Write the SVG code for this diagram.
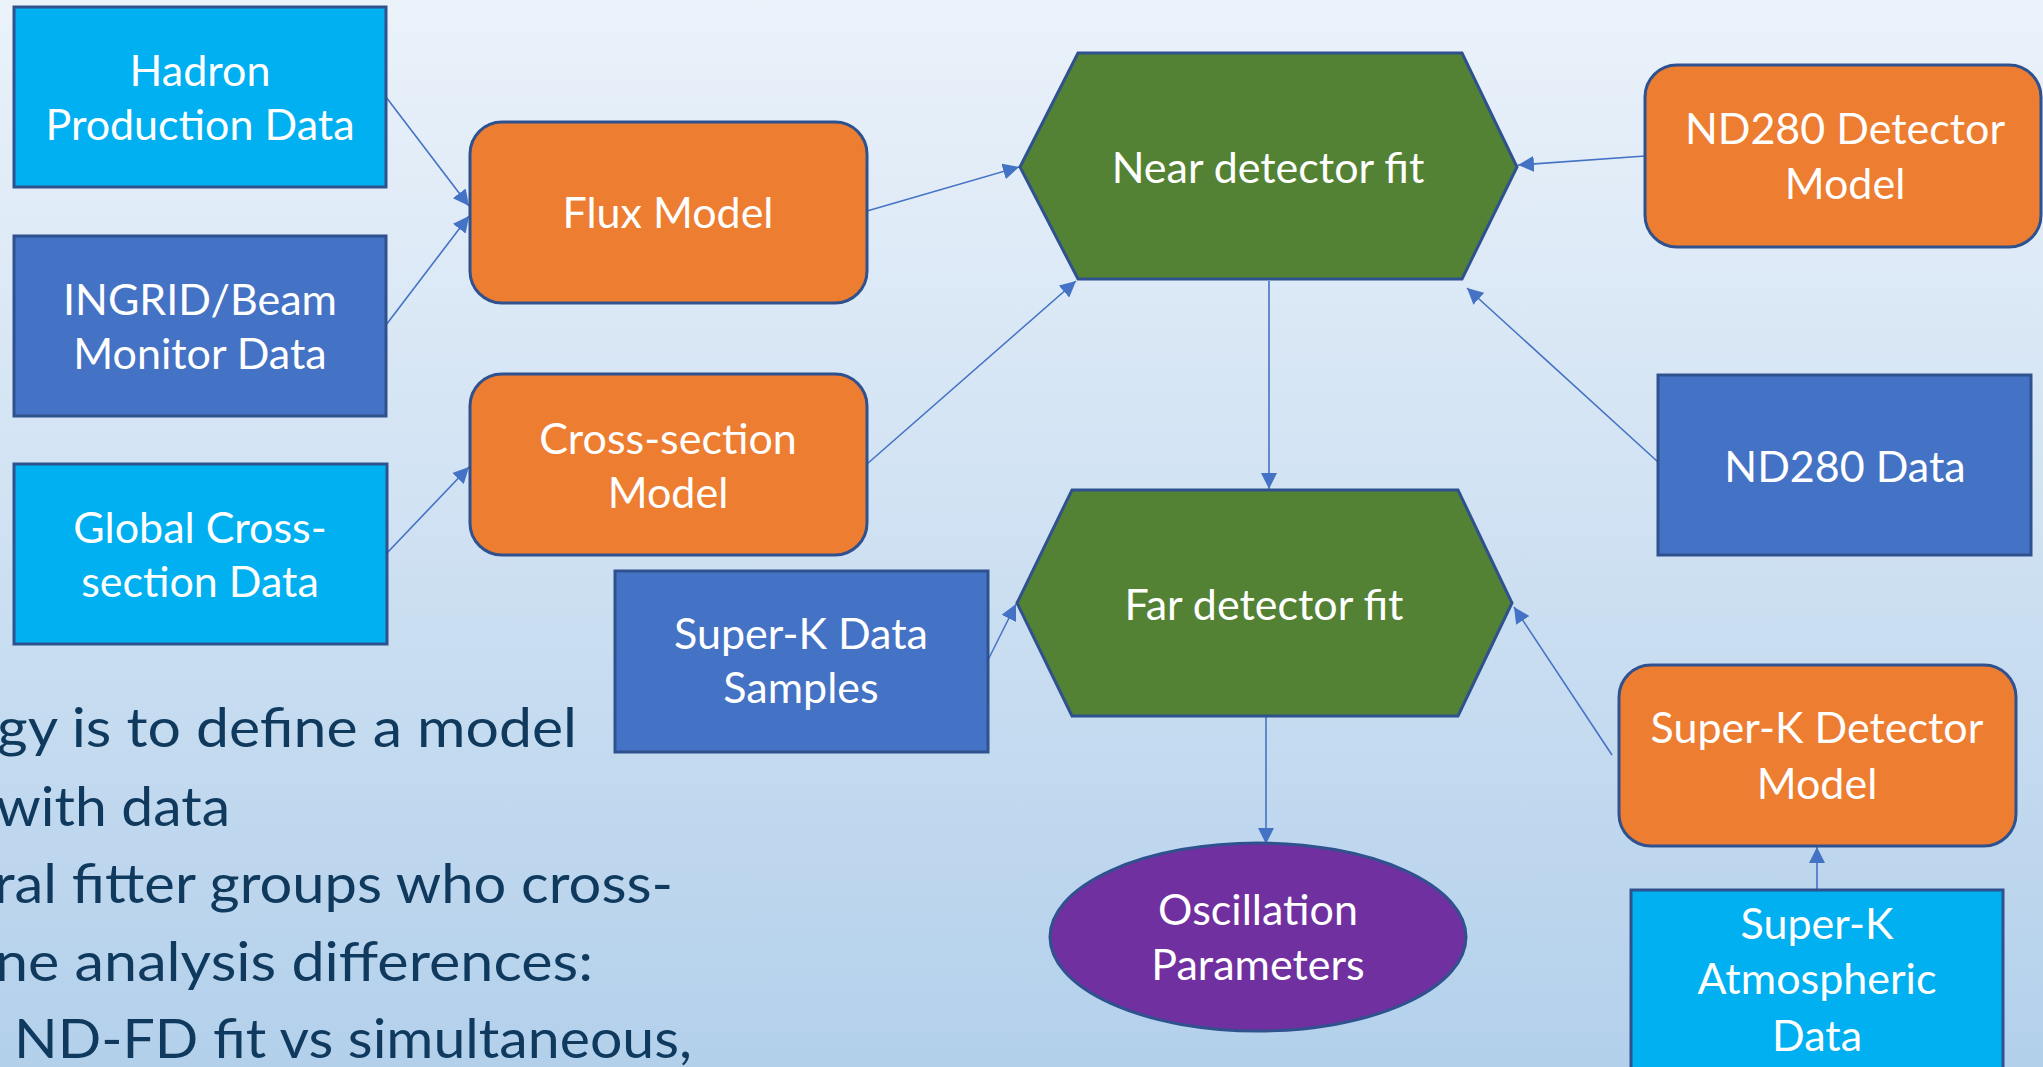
<svg xmlns="http://www.w3.org/2000/svg" width="2043" height="1067" viewBox="0 0 2043 1067">
<defs>
<linearGradient id="bg" x1="0" y1="0" x2="0" y2="1">
<stop offset="0" stop-color="#EBF2FA"/>
<stop offset="1" stop-color="#B3D0EB"/>
</linearGradient>
<marker id="ah" markerUnits="userSpaceOnUse" markerWidth="16" markerHeight="16" viewBox="0 0 14 14" refX="14" refY="7" orient="auto">
<path d="M0,0 L14,7 L0,14 z" fill="#4472C4"/>
</marker>
<style>
.lbl{font-family:Lato,"Open Sans","Liberation Sans",sans-serif;font-size:43px;fill:#FFFFFF;text-anchor:middle}
.body{font-family:Lato,"Open Sans","Liberation Sans",sans-serif;font-size:54px;fill:#0F3A5E}
.cyan{fill:#00B0F0;stroke:#2F528F;stroke-width:3}
.blue{fill:#4472C4;stroke:#2F528F;stroke-width:3}
.orange{fill:#ED7D31;stroke:#2F528F;stroke-width:3}
.green{fill:#548235;stroke:#2F528F;stroke-width:3}
.purple{fill:#7030A0;stroke:#2F528F;stroke-width:3}
.conn line{stroke:#4472C4;stroke-width:1.6;marker-end:url(#ah)}
</style>
</defs>
<rect x="0" y="0" width="2043" height="1067" fill="url(#bg)"/>

<g id="body-text">
<text class="body" x="-3" y="747" textLength="580" lengthAdjust="spacingAndGlyphs">gy is to define a model</text>
<text class="body" x="-4" y="826" textLength="234" lengthAdjust="spacingAndGlyphs">with data</text>
<text class="body" x="-6" y="903" textLength="679" lengthAdjust="spacingAndGlyphs">ral fitter groups who cross-</text>
<text class="body" x="-5" y="981" textLength="598" lengthAdjust="spacingAndGlyphs">ne analysis differences:</text>
<text class="body" x="14" y="1058" textLength="678" lengthAdjust="spacingAndGlyphs">ND-FD fit vs simultaneous,</text>
</g>

<g class="conn" id="connectors">
<line x1="386" y1="97" x2="469" y2="206"/>
<line x1="386" y1="325" x2="469" y2="216"/>
<line x1="387" y1="553" x2="469" y2="467"/>
<line x1="867" y1="211" x2="1019" y2="167"/>
<line x1="867" y1="464" x2="1076" y2="281"/>
<line x1="1645" y1="156" x2="1518" y2="165"/>
<line x1="1658" y1="462" x2="1467" y2="288"/>
<line x1="1269" y1="281" x2="1269" y2="489"/>
<line x1="988" y1="660" x2="1016" y2="604"/>
<line x1="1612" y1="755" x2="1514" y2="607"/>
<line x1="1266" y1="717" x2="1266" y2="844"/>
<line x1="1817" y1="890" x2="1817" y2="847"/>
</g>

<g id="hadron">
<rect class="cyan" x="14" y="7" width="372" height="180"/>
<text class="lbl" x="200" y="86">Hadron</text>
<text class="lbl" x="200" y="140">Production Data</text>
</g>
<g id="ingrid">
<rect class="blue" x="14" y="236" width="372" height="180"/>
<text class="lbl" x="200" y="315">INGRID/Beam</text>
<text class="lbl" x="200" y="369">Monitor Data</text>
</g>
<g id="global-xsec">
<rect class="cyan" x="14" y="464" width="373" height="180"/>
<text class="lbl" x="200" y="543">Global Cross-</text>
<text class="lbl" x="200" y="597">section Data</text>
</g>
<g id="flux-model">
<rect class="orange" x="470" y="122" width="397" height="181" rx="32" ry="32"/>
<text class="lbl" x="668" y="228">Flux Model</text>
</g>
<g id="xsec-model">
<rect class="orange" x="470" y="374" width="397" height="181" rx="32" ry="32"/>
<text class="lbl" x="668" y="454">Cross-section</text>
<text class="lbl" x="668" y="508">Model</text>
</g>
<g id="near-fit">
<polygon class="green" points="1020,167 1078,53 1462,53 1517,167 1462,279 1078,279"/>
<text class="lbl" x="1268" y="183">Near detector fit</text>
</g>
<g id="nd280-model">
<rect class="orange" x="1645" y="65" width="396" height="182" rx="32" ry="32"/>
<text class="lbl" x="1845" y="144">ND280 Detector</text>
<text class="lbl" x="1845" y="199">Model</text>
</g>
<g id="nd280-data">
<rect class="blue" x="1658" y="375" width="373" height="180"/>
<text class="lbl" x="1845" y="482">ND280 Data</text>
</g>
<g id="far-fit">
<polygon class="green" points="1017,603 1072,490 1458,490 1512,603 1458,716 1072,716"/>
<text class="lbl" x="1264" y="620">Far detector fit</text>
</g>
<g id="sk-data">
<rect class="blue" x="615" y="571" width="373" height="181"/>
<text class="lbl" x="801" y="649">Super-K Data</text>
<text class="lbl" x="801" y="703">Samples</text>
</g>
<g id="sk-detector">
<rect class="orange" x="1619" y="665" width="397" height="181" rx="32" ry="32"/>
<text class="lbl" x="1817" y="743">Super-K Detector</text>
<text class="lbl" x="1817" y="799">Model</text>
</g>
<g id="sk-atm">
<rect class="cyan" x="1631" y="890" width="372" height="200"/>
<text class="lbl" x="1817" y="939">Super-K</text>
<text class="lbl" x="1817" y="994">Atmospheric</text>
<text class="lbl" x="1817" y="1051">Data</text>
</g>
<g id="osc-params">
<ellipse class="purple" cx="1258" cy="937" rx="208" ry="94"/>
<text class="lbl" x="1258" y="925">Oscillation</text>
<text class="lbl" x="1258" y="980">Parameters</text>
</g>
</svg>
